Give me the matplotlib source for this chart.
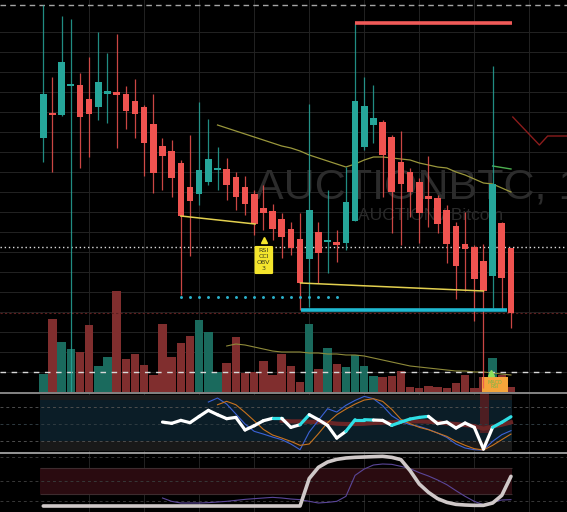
import numpy as np
import matplotlib
matplotlib.use('Agg')
import matplotlib.pyplot as plt
from matplotlib import font_manager
from matplotlib.collections import LineCollection
from matplotlib.patches import Rectangle

# --- data (price / volume in chart units) ---
opens = [262, 286, 285, 314, 315, 301, 293, 306, 308, 306, 299, 293, 276, 254, 249, 237, 213, 206,
         218, 230, 231, 223, 213, 206, 192, 189, 181, 171, 161, 141, 168, 158, 158, 157, 179, 253,
         275, 278, 263, 238, 228, 218, 204, 202, 190, 174, 156, 153, 139, 124, 177, 152]
highs = [395, 323, 384, 381, 327, 343, 368, 347, 366, 314, 321, 295, 306, 262, 260, 240, 265, 298,
         281, 253, 242, 228, 224, 210, 215, 196, 187, 178, 187, 296, 178, 210, 170, 233, 377, 323,
         315, 280, 265, 269, 232, 222, 244, 205, 195, 178, 188, 155, 156, 334, 178, 152]
lows = [238, 228, 284, 8, 232, 243, 280, 277, 252, 271, 262, 224, 207, 210, 203, 105, 144, 195,
        215, 210, 200, 190, 185, 165, 170, 160, 142, 145, 90, 93, 117, 127, 138, 150, 179, 250,
        257, 203, 167, 155, 183, 157, 173, 167, 137, 101, 109, 79, 12, 92, 90, 72]
closes = [306, 285, 338, 316, 283, 286, 318, 309, 305, 289, 286, 257, 227, 244, 222, 184, 199, 230,
          241, 231, 215, 203, 196, 176, 187, 171, 163, 152, 117, 190, 147, 159, 155, 198, 299, 294,
          282, 245, 208, 216, 208, 187, 201, 176, 156, 134, 151, 121, 109, 216, 122, 87]
volumes = [18, 73, 50, 43, 40, 67, 26, 35, 101, 33, 38, 27, 17, 68, 35, 49, 56, 72, 60, 20, 29, 55,
           19, 20, 31, 17, 38, 26, 10, 68, 23, 44, 28, 25, 37, 26, 16, 15, 16, 21, 5, 4, 6, 5, 4, 9,
           17, 4, 15, 34, 17, 5]
vol_ma = [46, 48, 47, 45, 43, 41, 40, 40, 40, 39, 39, 38, 38, 37, 37, 36, 34, 32, 30, 28, 26, 25,
          24, 23, 22, 21, 21, 20, 20, 19, 18, 17]                      # from candle 20
price_ma = [275, 272, 269, 266, 263, 260, 257, 254, 252, 249, 245, 242, 239, 236, 233, 236, 240,
            243, 243, 242, 241, 240, 237, 235, 233, 232, 228, 225, 221, 217, 216, 212, 208]  # from 19
green_x = [49, 51]
green_y = [234, 231]
redline_x = [51.2, 54.1, 55.0, 57.2]
redline_y = [283, 255, 264, 264]

resist_level, resist_from, resist_to = 377, 34, 51.1
support_level, support_from, support_to = 90, 28.05, 50.6
dots_level, dots_idx = 103, np.arange(15, 33)
div1_x, div1_y = [15, 23.1], [184, 176]
div2_x, div2_y = [28.05, 48], [117, 109]
last_price = 153
top_level = 395
red_level = 87

# oscillator 1 (RSI-like), candles 13..51
rsi = [52.3, 50.8, 54.3, 51.6, 59.0, 66.1, 61.0, 56.3, 57.8, 43.0, 48.0, 53.9, 56.7, 56.7, 46.1,
       49.2, 61.0, 55.1, 48.4, 33.5, 41.4, 55.1, 55.1, 54.7, 54.3, 48.4, 52.3, 55.9, 57.8, 59.0,
       50.4, 52.3, 45.3, 51.2, 46.1, 20.6, 46.1, 52.0, 58.6]
rsi_cyan_from = [25, 28, 33, 34, 35, 38, 39, 40, 41, 49, 50]
blue = [75.9, 80.6, 73.5, 61.8, 50.0, 41.4, 38.2, 34.7, 31.6, 26.5, 19.8, 40.6, 54.3, 68.0, 64.1,
        72.0, 77.8, 82.5, 79.8, 71.6, 59.8, 53.1, 49.2, 47.2, 43.7, 39.4, 34.3, 26.5, 21.8, 19.8,
        19.4, 29.6, 37.5, 42.2]                                          # from 18
orange = [72.7, 76.7, 72.7, 63.7, 53.9, 43.7, 37.1, 33.5, 29.6, 24.9, 26.5, 38.6, 51.6, 61.0, 67.6,
          73.5, 78.2, 79.8, 76.7, 67.3, 55.5, 50.4, 46.1, 43.3, 39.4, 35.5, 29.6, 24.9, 21.0, 19.4,
          24.9, 31.6, 38.2]                                              # from 19
rsi_ma = [53.9, 53.1, 53.1, 52.7, 52.3, 51.6, 50.4, 50.0, 50.0, 50.4, 51.2, 51.6, 52.0, 52.7, 53.1,
          53.1, 52.7, 52.0, 50.8, 50.0, 48.8, 47.6, 44.5, 46.9, 49.2, 52.0]  # from 26

# oscillator 2, candles 0..51 and 13..51
stoch = [0, 0, 0, 0, 0, 0, 0, 0, 0, 0, 0, 0, 0, 0, 0, 0, 0, 0, 0, 0, 0, 0, 0, 0, 0, 0, 0, 0, 0,
         55.0, 77.3, 88.0, 93.3, 96.0, 97.3, 98.0, 98.7, 99.3, 97.3, 92.7, 70.7, 44.0, 27.3, 14.7,
         7.3, 3.3, 2.0, 1.3, 1.3, 6.0, 21.3, 59.3]
purple = [16.0, 9.3, 6.0, 6.0, 6.0, 6.7, 8.0, 9.3, 11.3, 13.3, 14.7, 16.0, 17.3, 16.0, 14.0, 12.7,
          9.3, 6.0, 7.3, 9.3, 19.3, 61.3, 74.0, 82.0, 84.0, 83.3, 79.3, 74.7, 66.7, 60.0, 52.0,
          42.7, 30.7, 19.3, 9.3, 2.7, 8.0, 12.0, 12.7]

UP, DN = '#26a69a', '#ef5350'
VUP, VDN = '#1a6a5d', '#802e2e'
X_LO, X_HI = -4.72, 57.11
BAND_L, BAND_R = -0.36, 51.1

idx = np.arange(len(opens))
o, h, l, c = map(np.array, (opens, highs, lows, closes))
up = c >= o

names = {f.name for f in font_manager.fontManager.ttflist}
if 'Liberation Sans Narrow' in names:
    wm_family, wm_size = 'Liberation Sans Narrow', 38
else:
    wm_family, wm_size = 'Liberation Sans', 31

fig = plt.figure(figsize=(5.67, 5.12), dpi=100, facecolor='black')


def base_style(ax):
    ax.set_facecolor('black')
    ax.set_xlim(X_LO, X_HI)
    for s in ax.spines.values():
        s.set_visible(False)
    ax.tick_params(length=0, labelbottom=False, labelleft=False)
    ax.set_xticks(np.arange(5, 57, 6))
    ax.grid(axis='x', color='#232323', lw=0.7)
    ax.set_axisbelow(True)


# volume layer (bottom) with the main grid
ax_v = fig.add_axes([0, 120 / 512, 1, 392 / 512], label='vol')
base_style(ax_v)
ax_v.set_ylim(0, 392)
ax_v.set_yticks(np.arange(20, 380, 20))
ax_v.grid(axis='y', color='#232323', lw=0.7)
ax_v.bar(idx, volumes, width=0.92, color=np.where(up, VUP, VDN), lw=0, zorder=2)
ax_v.plot(idx[20:], vol_ma, color='#8f8b3a', lw=0.8, zorder=3)
ax_v.axhline(20, color='#d8d8d8', lw=1, ls=(0, (4, 4)), zorder=4)
ax_v.add_patch(Rectangle((47.85, 0), 2.8, 15, fc='#f5a53b', ec='none', zorder=5))
ax_v.text(49.25, 7.5, 'MACD\nRSI', ha='center', va='center', fontsize=3.6,
          color='#73b84a', linespacing=1.0, zorder=6)
ax_v.plot(48.8, 19, marker='^', ms=5, color='#8ee05a', zorder=6)

# price layer
ax_p = fig.add_axes([0, 120 / 512, 1, 392 / 512], label='price')
ax_p.patch.set_visible(False)
for s in ax_p.spines.values():
    s.set_visible(False)
ax_p.set_xlim(X_LO, X_HI)
ax_p.set_ylim(8, 400)
ax_p.set_xticks([])
ax_p.set_yticks([])

ax_p.text(23.1, 202, 'AUCTIONBTC, 1', family=wm_family, fontsize=wm_size,
          color='#2c2c2c', ha='left', va='baseline', zorder=0.5)
ax_p.text(34.3, 180, 'AUCTION / Bitcoin', family=wm_family, fontsize=12.5,
          color='#2a2a2a', ha='left', va='baseline', zorder=0.5)

ax_p.axhline(top_level, color='#a5a5a5', lw=1, ls=(0, (4, 3)), zorder=1)
ax_p.axhline(last_price, color='#dedede', lw=1, ls=(0, (1, 2)), zorder=1)
ax_p.axhline(red_level, color='#5e1f1f', lw=0.8, ls=(0, (2, 2)), zorder=1)

ax_p.plot(idx[19:], price_ma, color='#9a973c', lw=0.9, zorder=2)
ax_p.plot(green_x, green_y, color='#4caf50', lw=1, zorder=2)
ax_p.plot(redline_x, redline_y, color='#8b1c1c', lw=1, zorder=2)

ax_p.vlines(idx, l, h, colors=np.where(up, UP, DN), lw=0.9, alpha=0.85, zorder=3)
ax_p.bar(idx, np.maximum(np.abs(c - o), 1.8), bottom=np.minimum(o, c), width=0.72,
         color=np.where(up, UP, DN), lw=0, zorder=4)

ax_p.hlines(resist_level, resist_from, resist_to, color='#f05a58', lw=2.6, zorder=5)
ax_p.hlines(support_level, support_from, support_to, color='#1fb8d0', lw=2.6, zorder=5)
ax_p.scatter(dots_idx, np.full(len(dots_idx), dots_level), s=4.5, color='#2bb3cc', lw=0, zorder=5)
ax_p.plot(div1_x, div1_y, color='#e3d04f', lw=1.1, zorder=5)
ax_p.plot(div2_x, div2_y, color='#e3d04f', lw=1.1, zorder=5)

ax_p.text(24.05, 140, 'RSI\nCCI\nOBV\n3', ha='center', va='center', fontsize=4.6,
          color='#3a3a1a', linespacing=1.25, zorder=6,
          bbox=dict(boxstyle='round,pad=0.4,rounding_size=0.2', fc='#f4e52c', ec='none'))
ax_p.plot(24.05, 160, marker='^', ms=4, color='#f4e52c', zorder=6)

# oscillator panel 1
ax_o1 = fig.add_axes([0, 59.5 / 512, 1, 60 / 512], label='osc1')
base_style(ax_o1)
ax_o1.set_ylim(16.5, 87.1)
ax_o1.spines['top'].set_visible(True)
ax_o1.spines['top'].set_color('#9a9a9a')
ax_o1.spines['top'].set_linewidth(1.2)
ax_o1.fill_between([BAND_L, BAND_R], 78.2, 84.1, color='#1c1c1c', lw=0)
ax_o1.fill_between([BAND_L, BAND_R], 30, 78.2, color='#0b1d27', lw=0)
ax_o1.fill_between([BAND_L, BAND_R], 18.2, 30, color='#191919', lw=0)
for lev, col in ((70, '#4d4d4d'), (50, '#2e3a40'), (30, '#4d4d4d')):
    ax_o1.axhline(lev, color=col, lw=0.7, ls=(0, (3, 3)))
ax_o1.fill_between([47.6, 48.6], 40, 87.1, color='#7a2020', alpha=0.6, lw=0)
ax_o1.plot(idx[26:], rsi_ma, color='#6e2626', lw=3, alpha=0.95)
ax_o1.plot(idx[18:], blue, color='#3b62d6', lw=0.8)
ax_o1.plot(idx[19:], orange, color='#c8731e', lw=0.8)
pts = np.column_stack([idx[13:], rsi])
segs = [pts[k:k + 2] for k in range(len(pts) - 1)]
seg_cols = ['#2fe0e6' if 13 + k in rsi_cyan_from else 'white' for k in range(len(segs))]
ax_o1.add_collection(LineCollection(segs, colors=seg_cols, linewidths=2.3, capstyle='round',
                                    joinstyle='round'))

# oscillator panel 2
ax_o2 = fig.add_axes([0, 0, 1, 59.5 / 512], label='osc2')
base_style(ax_o2)
ax_o2.set_ylim(-12, 107)
ax_o2.spines['top'].set_visible(True)
ax_o2.spines['top'].set_color('#b0b0b0')
ax_o2.spines['top'].set_linewidth(1.2)
ax_o2.fill_between([BAND_L, BAND_R], 24, 76, color='#2a0b10', lw=0)
ax_o2.hlines([24, 76], BAND_L, BAND_R, color='#3d2b2e', lw=0.8)
for lev in (99, 50, 10):
    ax_o2.axhline(lev, color='#383838', lw=0.7, ls=(0, (3, 3)))
ax_o2.plot(idx[13:], purple, color='#5b4699', lw=0.8)
ax_o2.plot(idx, stoch, color='#cfc8c8', lw=2.6, solid_capstyle='round')

fig.savefig('out.png', dpi=100, facecolor='black')
